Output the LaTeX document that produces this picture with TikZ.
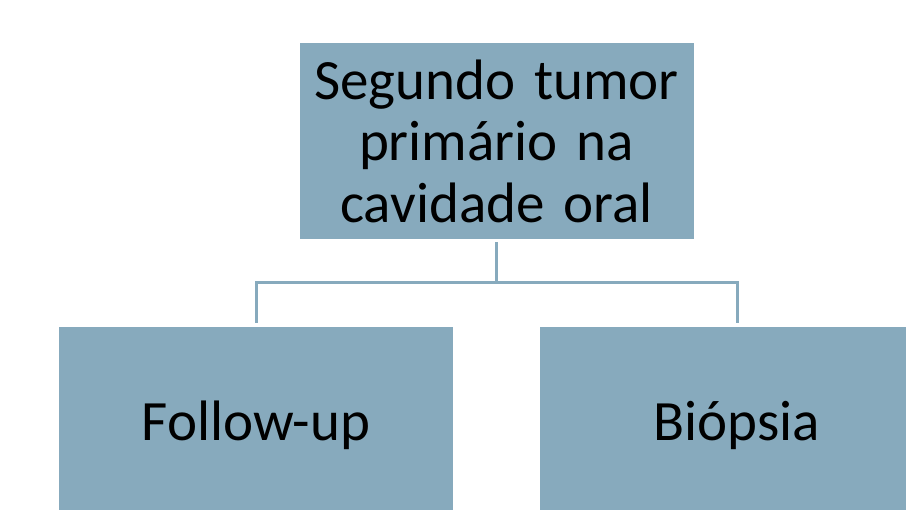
\documentclass[tikz,border=0pt]{standalone}
\usepackage{fontspec}
\setmainfont{Carlito}
\usetikzlibrary{trees}
\definecolor{boxblue}{RGB}{135,170,189}
\begin{document}
\begin{tikzpicture}[
        every node/.style={rectangle, fill=boxblue, minimum width=394pt, minimum height=196pt,
            text width=380pt, align=center, inner sep=0pt,
            font=\fontsize{57}{61.5}\selectfont},
        edge from parent/.style={draw=boxblue, line width=3pt, shorten <=3pt, shorten >=4pt},
        edge from parent path={(\tikzparentnode.south) -- +(0pt,-43pt) -| (\tikzchildnode.north)},
        level 1/.style={sibling distance=481pt},
        level distance=284pt,
    ]
    \useasboundingbox (0pt,0pt) rectangle (906pt,510pt);
    \clip (0pt,0pt) rectangle (906pt,510pt);
    \node[](tumor) at (496.5pt,369pt){Segundo tumor\\primário na\\cavidade oral}
    child{node[](followup){Follow-up}}
    child{node[](biopsia){Biópsia}}
    ;

    \end{tikzpicture}
\end{document}
